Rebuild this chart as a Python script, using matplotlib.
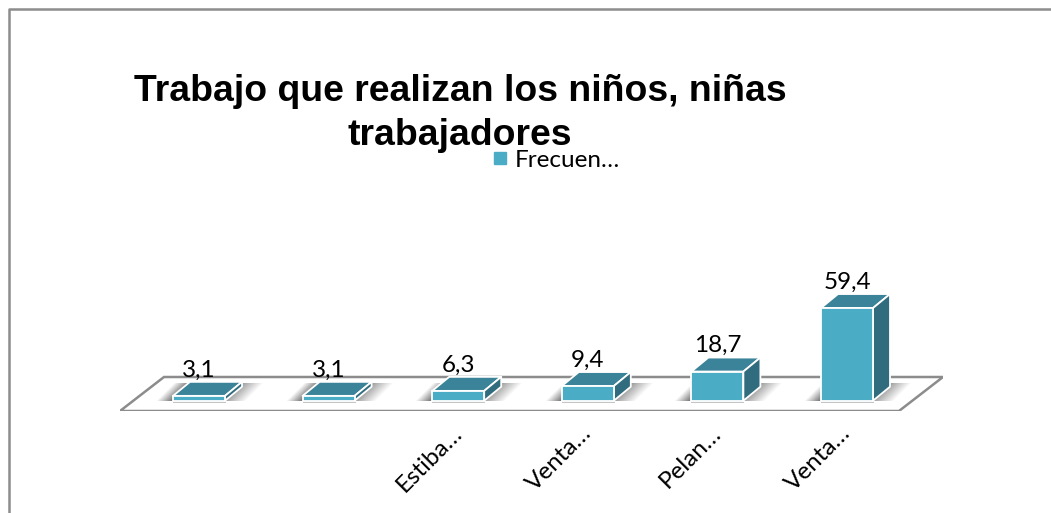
import matplotlib.pyplot as plt
from matplotlib.lines import Line2D
from matplotlib.patches import Polygon, Rectangle
from matplotlib.transforms import ScaledTranslation
import numpy as np

# chart values
categories = ["", "", "Estiba…", "Venta…", "Pelan…", "Venta…"]
values = [3.1, 3.1, 6.3, 9.4, 18.7, 59.4]
value_labels = ["3,1", "3,1", "6,3", "9,4", "18,7", "59,4"]
series_name = "Frecuen…"
title_text = "Trabajo que realizan los niños, niñas\ntrabajadores"

W, H = 1051, 513
FRONT = "#4bacc6"
TOP = "#3a8399"
SIDE = "#316c7e"
GREY = "#8c8c8c"

# pixel layout of the plot area
left_px, right_px = 120, 943
floor_px, top_px = 411, 8
first_px, step_px = 199, 129.6
base_px = 400.7
px_per_unit = 1.56

fig = plt.figure(figsize=(W / 100, H / 100), dpi=100)
ax = fig.add_axes([left_px / W, 1 - floor_px / H, (right_px - left_px) / W, (floor_px - top_px) / H])
ax.set_xlim((left_px - first_px) / step_px, (right_px - first_px) / step_px)
ax.set_ylim((base_px - floor_px) / px_per_unit, (base_px - top_px) / px_per_unit)
ax.patch.set_visible(False)
for s in ax.spines.values():
    s.set_visible(False)
ax.set_yticks([])

bar_w = 52 / step_px
dx = 17 / step_px
dy = 14 / px_per_unit
floor_dx = 44 / step_px
floor_dy = 34 / px_per_unit

# floor of the 3d chart
x0, x1 = ax.get_xlim()
y0 = ax.get_ylim()[0]
floor = Polygon([(x0, y0), (x1 - floor_dx, y0), (x1, y0 + floor_dy), (x0 + floor_dx, y0 + floor_dy)],
                closed=True, fc="white", ec=GREY, lw=1.8, zorder=1)
ax.add_patch(floor)

# soft shadow, a slanted band that fades to the left and to the right
shadow_w = 107  # px, whole image width
shadow_band = 90  # px, band width on one row
shadow_h = 18  # px
col_px, row_t = np.meshgrid(np.arange(shadow_w), np.linspace(1, 0, shadow_h))
band_u = (col_px - 17 * row_t) / shadow_band
shadow = np.zeros((shadow_h, shadow_w, 4))
shadow[..., 3] = np.interp(band_u, [0, 0.2, 0.62, 1], [0, 0.62, 0.62, 0])

for i, v in enumerate(values):
    l = i - bar_w / 2
    r = i + bar_w / 2
    sl = l - 17 / step_px
    ax.imshow(shadow, extent=(sl, sl + shadow_w / step_px, 0, shadow_h / px_per_unit), aspect="auto",
              zorder=2, interpolation="bilinear")
    ax.plot([l, r + 1 / step_px], [-0.8, -0.8], color="#c4c4c4", lw=1.4, zorder=2, solid_capstyle="butt")

    ax.add_patch(Polygon([(l, v), (r, v), (r + dx, v + dy), (l + dx, v + dy)], closed=True,
                         fc=TOP, ec="white", lw=1.3, joinstyle="round", zorder=3))
    ax.add_patch(Polygon([(r, 0), (r + dx, dy), (r + dx, v + dy), (r, v)], closed=True,
                         fc=SIDE, ec="white", lw=1.3, joinstyle="round", zorder=3))
    ax.add_patch(Rectangle((l, 0), bar_w, v, fc=FRONT, ec="white", lw=1.3, zorder=4))
    ax.annotate(value_labels[i], (i, v + dy), xytext=(0, 1), textcoords="offset points",
                ha="center", va="bottom", fontsize=17.5, family="Lato", color="black", zorder=5)

ax.set_xlim((left_px - first_px) / step_px, (right_px - first_px) / step_px)
ax.set_ylim((base_px - floor_px) / px_per_unit, (base_px - top_px) / px_per_unit)

ax.set_xticks(range(len(categories)))
ax.set_xticklabels(categories, rotation=45, ha="right", va="top", rotation_mode="anchor",
                   fontsize=17.5, family="Lato")
ax.tick_params(axis="x", length=0, pad=8)
# the labels sit a bit left of the bar centres
shift = ScaledTranslation(-5 / 72, 0, fig.dpi_scale_trans)
for lab in ax.get_xticklabels():
    lab.set_transform(lab.get_transform() + shift)

# title and legend
fig.text(460 / W, 1 - 113.5 / H, title_text, ha="center", va="center", fontsize=26.9, fontweight="bold",
         family="Liberation Sans", linespacing=1.34)
ax.legend(handles=[Line2D([], [], ls="none", marker="s", ms=8, color=FRONT)], labels=[series_name],
          loc="center", bbox_to_anchor=(548 / W, 1 - 160 / H), bbox_transform=fig.transFigure,
          frameon=False, prop={"family": "Lato", "size": 17.5}, handletextpad=-0.4, borderpad=0)

# frame of the chart area, only left and top show
fig.add_artist(Line2D([8.5 / W, 8.5 / W, 1], [0, 1 - 8.5 / H, 1 - 8.5 / H], color=GREY, lw=1.8))

fig.savefig("out.png", dpi=100)
